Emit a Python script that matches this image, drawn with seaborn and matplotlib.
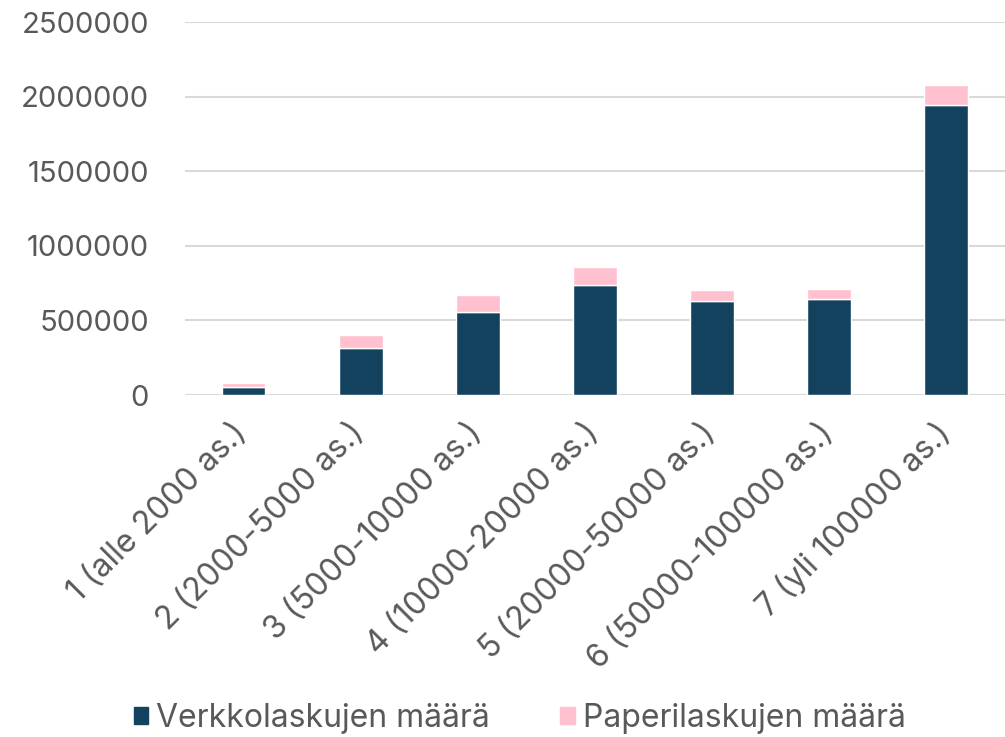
import matplotlib
matplotlib.use("Agg")
import matplotlib.pyplot as plt
import matplotlib.transforms as mtransforms
import seaborn as sns
import pandas as pd
from matplotlib.patches import Patch

categories = ["1 (alle 2000 as.)", "2 (2000-5000 as.)", "3 (5000-10000 as.)",
              "4 (10000-20000 as.)", "5 (20000-50000 as.)", "6 (50000-100000 as.)",
              "7 (yli 100000 as.)"]
verkko = [54000, 313000, 554000, 739000, 633000, 644000, 1943000]
paperi = [25000, 90000, 119000, 117000, 72000, 65000, 138000]
series_names = ["Verkkolaskujen määrä", "Paperilaskujen määrä"]
yticks = [0, 500000, 1000000, 1500000, 2000000, 2500000]

dark = "#13425f"
pink = "#ffc0cf"
text_col = "#595959"

sns.set_theme(style="white")
plt.rcParams['font.family'] = ['Inter', 'DejaVu Sans']

df = pd.DataFrame({"cat": categories, "verkko": verkko, "paperi": paperi})

fig = plt.figure(figsize=(10.05, 7.37), dpi=100)
ax = fig.add_axes([0.184, 0.464, 0.816, 0.506])

sns.barplot(data=df, x="cat", y="verkko", color=dark, width=0.375, ax=ax,
            saturation=1, zorder=3)
sns.barplot(data=df, x="cat", y="paperi", color=pink, width=0.375, ax=ax,
            saturation=1, bottom=df["verkko"], zorder=3)

ax.set_ylim(0, 2500000)
ax.set_xlim(-0.5, 6.5)
ax.set_yticks(yticks)
ax.set_yticklabels([str(v) for v in yticks])
ax.yaxis.grid(True, color="#d9d9d9", linewidth=1.5, zorder=0)
ax.set_axisbelow(True)
for s in ax.spines.values():
    s.set_visible(False)
ax.set_xlabel("")
ax.set_ylabel("")
ax.tick_params(axis="y", length=0, pad=26, labelsize=21, labelcolor=text_col)
ax.tick_params(axis="x", length=0, pad=16, labelsize=23, labelcolor=text_col)
ax.set_xticks(range(len(categories)))
ax.set_xticklabels(categories, rotation=45, ha="right", rotation_mode="anchor")
offset = mtransforms.ScaledTranslation(-12 / 100, 0, fig.dpi_scale_trans)
for lbl in ax.get_xticklabels():
    lbl.set_transform(lbl.get_transform() + offset)

handles = [Patch(color=dark), Patch(color=pink)]
fig.legend(handles, series_names, loc="center", bbox_to_anchor=(0.517, 0.025),
           ncol=2, frameon=False, fontsize=23, labelcolor=text_col,
           handlelength=0.45, handleheight=0.45, handletextpad=0.25, columnspacing=2.2)

fig.savefig("out.png", dpi=100)
